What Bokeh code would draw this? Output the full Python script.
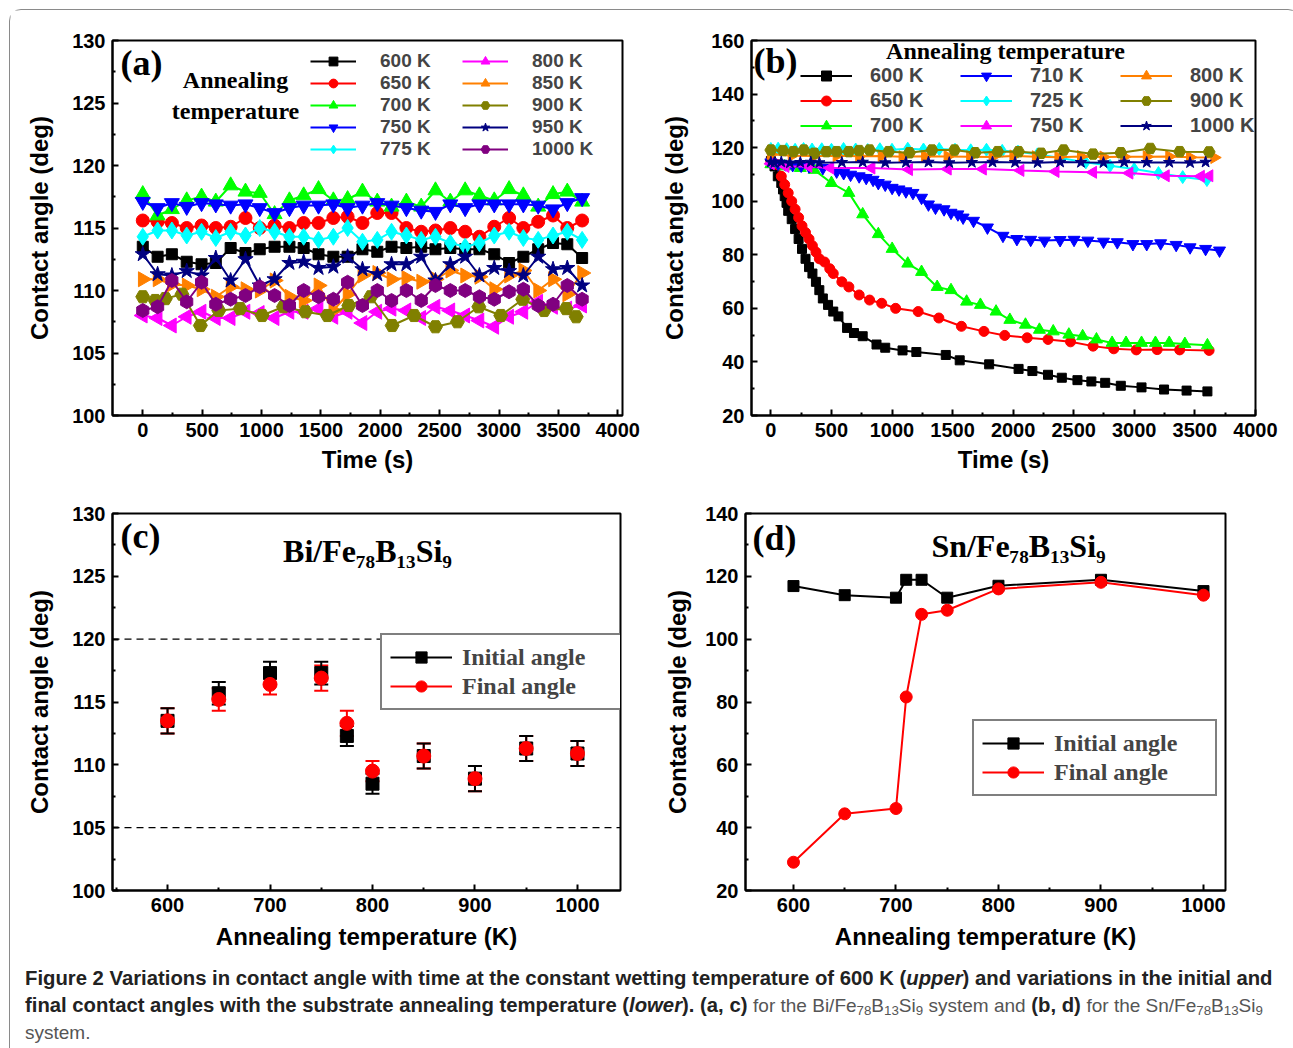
import math
import numpy as np
from bokeh.plotting import figure
from bokeh.models import (Legend, LegendItem, Label, Span, Whisker, ColumnDataSource,
                          FixedTicker, Div)
from bokeh.layouts import row, column
from bokeh.embed import file_html
from bokeh.resources import INLINE

# ---------------- data: panel (a) Bi on Fe78B13Si9, contact angle vs time ----------------
a_time = [0, 125, 245, 370, 495, 615, 740, 865, 985, 1110, 1235, 1355, 1480, 1605, 1725, 1850,
          1975, 2095, 2220, 2345, 2465, 2590, 2715, 2835, 2960, 3085, 3205, 3330, 3455, 3575, 3700]
a_time_900 = [0, 105, 190, 330, 485, 640, 820, 1005, 1185, 1370, 1555, 1735, 1920, 2100, 2285,
              2465, 2650, 2830, 3015, 3200, 3380, 3565, 3650]
a_600 = [113.5, 112.7, 112.9, 112.3, 112.1, 112.2, 113.4, 113.0, 113.3, 113.5, 113.5, 113.4, 112.9,
         112.7, 112.7, 113.3, 113.1, 113.5, 113.4, 113.5, 113.3, 113.4, 113.3, 113.3, 112.9, 112.2,
         112.7, 113.3, 113.8, 113.7, 112.6]
a_650 = [115.6, 115.5, 115.4, 115.0, 115.2, 115.0, 115.1, 115.8, 115.0, 115.2, 115.0, 115.4, 115.4,
         115.8, 115.9, 115.4, 116.2, 116.2, 115.0, 114.7, 114.8, 115.0, 114.7, 114.3, 115.1, 115.8,
         115.0, 115.5, 116.0, 115.0, 115.6]
a_700 = [117.7, 116.0, 116.5, 117.2, 117.5, 117.1, 118.4, 117.9, 117.8, 116.1, 117.2, 117.6, 118.1,
         117.2, 117.3, 117.9, 117.1, 116.7, 117.1, 116.7, 118.0, 117.1, 118.0, 117.6, 117.2, 118.1,
         117.6, 116.7, 117.7, 117.9, 117.1]
a_750 = [117.1, 116.6, 117.0, 116.7, 117.0, 116.9, 116.8, 116.9, 116.6, 116.2, 116.6, 116.8, 116.8,
         116.9, 116.6, 116.8, 117.0, 116.8, 116.6, 116.4, 116.3, 116.9, 116.6, 116.9, 116.9, 116.9,
         116.9, 116.8, 116.5, 117.0, 117.4]
a_775 = [114.3, 114.8, 114.8, 114.4, 114.7, 114.2, 114.7, 114.4, 115.0, 114.7, 114.3, 114.3, 114.05,
         114.3, 115.0, 113.9, 114.05, 114.7, 114.4, 114.05, 114.3, 113.8, 113.5, 113.8, 114.4, 114.7,
         114.2, 114.05, 114.4, 114.7, 114.05]
a_800 = [108.0, 107.8, 107.2, 107.9, 108.3, 107.8, 107.8, 108.3, 108.2, 107.8, 108.3, 108.3, 108.55,
         107.9, 108.3, 107.4, 108.3, 108.55, 108.4, 107.8, 108.7, 108.4, 108.0, 107.6, 107.1, 107.9,
         108.3, 109.1, 108.7, 108.55, 108.8]
a_850 = [110.9, 110.9, 110.5, 110.4, 110.1, 109.5, 110.3, 110.1, 110.0, 110.8, 109.5, 109.2, 110.4,
         108.4, 109.7, 111.2, 111.4, 110.9, 111.0, 110.7, 110.9, 111.6, 111.2, 111.1, 110.1, 111.2,
         111.6, 110.0, 110.9, 109.7, 111.4]
a_900 = [109.5, 109.2, 109.35, 109.7, 107.2, 108.4, 108.55, 108.0, 108.7, 108.3, 108.0, 108.8, 109.5,
         107.2, 108.0, 107.1, 107.5, 108.7, 108.0, 109.3, 108.4, 108.55, 107.9]
a_950 = [112.9, 111.3, 111.2, 111.55, 111.2, 112.6, 110.8, 112.5, 110.4, 110.9, 112.2, 112.3, 111.8,
         111.9, 112.7, 111.7, 111.3, 112.1, 112.1, 112.7, 110.8, 112.1, 112.7, 111.2, 111.8, 111.55,
         111.2, 112.7, 111.7, 111.8, 110.4]
a_1000 = [108.4, 108.7, 110.8, 109.1, 110.66, 108.9, 109.3, 109.6, 110.3, 109.6, 108.8, 110.0, 109.5,
          109.3, 110.66, 108.8, 110.0, 109.2, 110.0, 109.2, 110.4, 110.0, 110.0, 109.5, 109.3, 109.9,
          110.1, 108.8, 108.9, 110.4, 109.3]

# ---------------- data: panel (b) Sn on Fe78B13Si9, contact angle vs time ----------------
b_t_600 = [0, 30, 57, 86, 100, 114, 129, 143, 172, 200, 229, 257, 286, 315, 343, 372, 400, 429, 472,
           515, 558, 629, 686, 758, 872, 944, 1087, 1201, 1444, 1559, 1802, 2045, 2159, 2288, 2402,
           2531, 2646, 2760, 2889, 3060, 3246, 3432, 3604]
b_v_600 = [115.0, 113.0, 109.3, 106.8, 104.4, 101.9, 99.4, 96.4, 93.3, 89.6, 85.9, 82.2, 78.5, 75.4,
           73.0, 69.9, 66.8, 63.7, 61.3, 58.8, 57.0, 52.7, 50.8, 49.6, 46.5, 45.3, 44.3, 43.7, 42.6,
           40.6, 39.1, 37.4, 36.6, 35.2, 34.1, 33.2, 32.7, 32.2, 31.1, 30.5, 29.7, 29.3, 29.0]
b_t_650 = [0, 29, 57, 86, 114, 143, 172, 200, 229, 257, 286, 315, 343, 372, 400, 443, 486, 515, 586,
           644, 729, 815, 915, 1030, 1216, 1387, 1573, 1759, 1931, 2116, 2288, 2474, 2660, 2831,
           3017, 3189, 3375, 3618]
b_v_650 = [115.0, 114.0, 113.6, 109.3, 106.2, 103.1, 100.0, 97.0, 93.9, 90.8, 88.3, 85.9, 83.4, 81.0,
           78.5, 77.3, 74.8, 73.0, 69.9, 68.0, 65.0, 63.1, 61.9, 60.0, 58.8, 56.4, 53.3, 51.4, 49.9,
           49.0, 48.4, 47.5, 45.9, 44.9, 44.5, 44.6, 44.5, 44.3]
b_t_700 = [0, 114, 243, 358, 500, 644, 758, 887, 1001, 1130, 1244, 1373, 1487, 1616, 1730, 1859,
           1973, 2102, 2217, 2331, 2460, 2574, 2688, 2817, 2932, 3060, 3175, 3289, 3418, 3604]
b_v_700 = [113.8, 113.0, 112.4, 111.7, 106.8, 103.1, 95.1, 87.7, 82.2, 76.7, 73.6, 68.0, 66.8, 62.5,
           61.3, 58.8, 55.7, 53.9, 52.0, 51.4, 50.2, 49.6, 48.4, 47.1, 47.1, 47.1, 47.1, 47.1, 46.7,
           46.2]
b_t_710 = [0, 60, 120, 180, 250, 315, 429, 543, 601, 658, 729, 787, 844, 887, 944, 1001, 1058, 1115,
           1173, 1244, 1301, 1359, 1430, 1487, 1544, 1587, 1673, 1788, 1916, 2031, 2145, 2259, 2388,
           2503, 2617, 2746, 2860, 2989, 3103, 3218, 3346, 3461, 3589, 3704]
b_v_710 = [114.5, 114.0, 113.8, 113.5, 113.3, 113.0, 112.4, 111.1, 110.5, 109.9, 109.3, 108.7, 108.0,
           106.8, 106.2, 105.0, 104.4, 103.7, 103.1, 101.3, 98.8, 97.6, 97.0, 95.7, 95.1, 93.9, 92.7,
           90.2, 87.1, 85.9, 85.6, 85.3, 85.5, 85.6, 85.3, 84.9, 84.7, 84.0, 84.0, 84.3, 83.7, 82.8,
           82.2, 81.6]
b_t_725 = [0, 60, 130, 200, 270, 340, 420, 500, 600, 700, 800, 900, 1000, 1130, 1260, 1390, 1520,
           1650, 1780, 1910, 2040, 2200, 2400, 2600, 2800, 3000, 3200, 3400, 3600]
b_v_725 = [119.5, 119.6, 119.4, 119.2, 119.5, 119.3, 119.4, 119.2, 119.5, 119.3, 119.1, 119.4, 119.2,
           119.6, 119.3, 119.5, 119.2, 119.0, 119.2, 118.8, 118.5, 117.5, 116.0, 114.5, 113.2, 112.0,
           110.5, 109.0, 107.9]
b_t_750 = [0, 120, 310, 490, 830, 1140, 1460, 1750, 2060, 2350, 2660, 2960, 3260, 3550, 3620]
b_v_750 = [114.0, 113.0, 113.0, 112.4, 112.4, 111.8, 112.0, 112.0, 111.5, 111.1, 110.8, 110.5, 109.5,
           109.3, 109.5]
b_t_800 = [0, 172, 358, 543, 729, 915, 1087, 1273, 1459, 1645, 1830, 2002, 2188, 2374, 2560, 2746,
           2917, 3103, 3289, 3461, 3661]
b_v_800 = [117.5, 117.0, 116.9, 117.0, 116.8, 116.9, 116.6, 116.8, 116.7, 116.6, 116.5, 116.9, 116.6,
           116.4, 116.7, 116.5, 116.6, 116.6, 116.7, 116.4, 116.3]
b_t_900 = [0, 100, 186, 272, 358, 458, 543, 644, 729, 815, 972, 1144, 1330, 1516, 1687, 1873, 2045,
           2231, 2417, 2660, 2889, 3132, 3375, 3618]
b_v_900 = [119.1, 118.9, 118.5, 119.1, 117.9, 118.5, 118.5, 118.5, 118.9, 119.1, 118.5, 118.1, 119.1,
           119.1, 118.1, 118.5, 118.5, 117.9, 119.1, 117.6, 118.1, 119.7, 118.5, 118.4]
b_t_1000 = [0, 29, 86, 157, 243, 329, 400, 586, 758, 944, 1115, 1301, 1473, 1659, 1830, 2016, 2202,
            2388, 2560, 2746, 2917, 3103, 3289, 3461, 3589]
b_v_1000 = [114.6, 114.4, 114.6, 114.3, 114.5, 114.6, 114.4, 114.5, 114.6, 114.4, 114.5, 114.6, 114.4,
            114.5, 114.6, 114.5, 114.4, 114.6, 114.5, 114.4, 114.6, 114.5, 114.5, 114.4, 114.6]

# ---------------- data: panel (c) Bi system, initial/final angle vs annealing T ----------------
c_temp = [600, 650, 700, 750, 775, 800, 850, 900, 950, 1000]
c_init = [113.5, 115.7, 117.3, 117.3, 112.3, 108.5, 110.7, 108.9, 111.3, 110.9]
c_final = [113.5, 115.2, 116.4, 116.9, 113.3, 109.5, 110.7, 108.9, 111.3, 110.9]
c_init_err = [1.0, 0.9, 0.9, 0.9, 0.8, 0.8, 1.0, 1.0, 1.0, 1.0]
c_final_err = [1.0, 0.9, 0.8, 1.0, 1.0, 0.8, 1.0, 1.0, 1.0, 1.0]
c_ref_lines = [120, 105]

# ---------------- data: panel (d) Sn system ----------------
d_temp = [600, 650, 700, 710, 725, 750, 800, 900, 1000]
d_init = [116.9, 114.0, 113.2, 118.9, 118.9, 113.2, 117.0, 118.9, 115.3]
d_final = [29.0, 44.4, 46.1, 81.6, 107.9, 109.2, 116.0, 118.1, 114.0]

# ---------------- tick labels ----------------
time_ticks = [0, 500, 1000, 1500, 2000, 2500, 3000, 3500, 4000]
time_minor = [250, 750, 1250, 1750, 2250, 2750, 3250, 3750]
a_yticks = [100, 105, 110, 115, 120, 125, 130]
a_yminor = [102.5, 107.5, 112.5, 117.5, 122.5, 127.5]
b_yticks = [20, 40, 60, 80, 100, 120, 140, 160]
b_yminor = [30, 50, 70, 90, 110, 130, 150]
t_ticks = [600, 700, 800, 900, 1000]
t_minor = [550, 650, 750, 850, 950]
d_yticks = [20, 40, 60, 80, 100, 120, 140]
d_yminor = [30, 50, 70, 90, 110, 130]

SANS = "Liberation Sans"
SERIF = "Liberation Serif"


def make_fig(w, h, xr, yr, bl, br, bt, bb, xlabel, xt, xm, yt, ym, ylabel_standoff, xlabel_standoff):
    p = figure(width=w, height=h, x_range=xr, y_range=yr, output_backend="svg",
               toolbar_location=None, min_border_left=bl, min_border_right=br,
               min_border_top=bt, min_border_bottom=bb)
    p.grid.visible = False
    p.outline_line_color = "black"
    p.outline_line_width = 2
    p.outline_line_alpha = 1
    p.xaxis.ticker = FixedTicker(ticks=xt, minor_ticks=xm)
    p.yaxis.ticker = FixedTicker(ticks=yt, minor_ticks=ym)
    for ax in (p.xaxis[0], p.yaxis[0]):
        ax.axis_line_width = 2
        ax.major_tick_line_width = 2
        ax.minor_tick_line_width = 2
        ax.major_tick_in = 6
        ax.major_tick_out = 0
        ax.minor_tick_in = 3
        ax.minor_tick_out = 0
        ax.major_label_text_font = SANS
        ax.major_label_text_font_style = "bold"
        ax.major_label_text_font_size = "20px"
        ax.major_label_text_color = "black"
        ax.major_label_standoff = 7
        ax.axis_label_text_font = SANS
        ax.axis_label_text_font_style = "bold"
        ax.axis_label_text_font_size = "24px"
        ax.axis_label_text_color = "black"
    p.yaxis.axis_label = "Contact angle (deg)"
    p.yaxis.axis_label_standoff = ylabel_standoff
    p.xaxis.axis_label = xlabel
    p.xaxis.axis_label_standoff = xlabel_standoff
    return p


def add_label(p, x, y, text, font, size, align="left"):
    p.add_layout(Label(x=x, y=y, x_units="screen", y_units="screen", text=text,
                       text_font=font, text_font_style="bold", text_font_size=size,
                       text_align=align, text_baseline="middle", text_color="black"))


GREEN = "#00ff00"

# ---------------- panel (a) ----------------
pa = make_fig(630, 480, (-255, 4040), (100, 130), 102, 18, 30, 70, "Time (s)",
              time_ticks, time_minor, a_yticks, a_yminor, 16, 6)
a_series = [
    ("600 K", a_time, a_600, "black", "square", 0, 11),
    ("650 K", a_time, a_650, "red", "circle", 0, 13),
    ("700 K", a_time, a_700, GREEN, "triangle", 0, 15),
    ("750 K", a_time, a_750, "blue", "inverted_triangle", 0, 15),
    ("775 K", a_time, a_775, "cyan", "diamond", 0, 17),
    ("800 K", a_time, a_800, "magenta", "triangle", math.pi / 2, 15),
    ("850 K", a_time, a_850, "#ff8000", "triangle", -math.pi / 2, 15),
    ("900 K", a_time_900, a_900, "#808000", "hex", 0, 14),
    ("950 K", a_time, a_950, "#000080", "star", 0, 16),
    ("1000 K", a_time, a_1000, "#800080", "hex", math.pi / 2, 14),
]
a_items = []
for lab, xs, ys, col, mk, ang, sz in a_series:
    src = ColumnDataSource(dict(x=xs, y=ys))
    l = pa.line("x", "y", source=src, line_color=col, line_width=2)
    s = pa.scatter("x", "y", source=src, marker=mk, angle=ang, size=sz, fill_color=col, line_color=col)
    a_items.append(LegendItem(label=lab, renderers=[l, s]))
leg_a = Legend(items=a_items, location=(198, 255), orientation="vertical", nrows=5,
               glyph_width=46, glyph_height=22, label_standoff=24, label_width=82, label_height=22,
               spacing=0, padding=0, margin=0, background_fill_alpha=0, border_line_alpha=0,
               label_text_font=SANS, label_text_font_style="bold", label_text_font_size="19px")
pa.add_layout(leg_a)
add_label(pa, 8, 353, "(a)", SERIF, "36px")
add_label(pa, 123, 336, "Annealing", SERIF, "24px", "center")
add_label(pa, 123, 305, "temperature", SERIF, "24px", "center")

# ---------------- panel (b) ----------------
pb = make_fig(649, 480, (-160, 4001), (20, 160), 111, 34, 26, 75, "Time (s)",
              time_ticks, time_minor, b_yticks, b_yminor, 20, 6)
b_series = [
    ("600 K", b_t_600, b_v_600, "black", "square", 0, 9),
    ("650 K", b_t_650, b_v_650, "red", "circle", 0, 10),
    ("700 K", b_t_700, b_v_700, GREEN, "triangle", 0, 12),
    ("710 K", b_t_710, b_v_710, "blue", "inverted_triangle", 0, 12),
    ("725 K", b_t_725, b_v_725, "cyan", "diamond", 0, 13),
    ("750 K", b_t_750, b_v_750, "magenta", "triangle", math.pi / 2, 12),
    ("800 K", b_t_800, b_v_800, "#ff8000", "triangle", -math.pi / 2, 12),
    ("900 K", b_t_900, b_v_900, "#808000", "hex", 0, 12),
    ("1000 K", b_t_1000, b_v_1000, "#000080", "star", 0, 12),
]
b_items = []
for lab, xs, ys, col, mk, ang, sz in b_series:
    src = ColumnDataSource(dict(x=xs, y=ys))
    l = pb.line("x", "y", source=src, line_color=col, line_width=2)
    s = pb.scatter("x", "y", source=src, marker=mk, angle=ang, size=sz, fill_color=col, line_color=col)
    b_items.append(LegendItem(label=lab, renderers=[l, s]))
leg_b = Legend(items=b_items, location=(49, 277), orientation="vertical", nrows=3,
               glyph_width=52, glyph_height=25, label_standoff=18, label_width=90, label_height=25,
               spacing=0, padding=0, margin=0, background_fill_alpha=0, border_line_alpha=0,
               label_text_font=SANS, label_text_font_style="bold", label_text_font_size="20px")
pb.add_layout(leg_b)
add_label(pb, 2, 355, "(b)", SERIF, "36px")
add_label(pb, 254, 365, "Annealing temperature", SERIF, "24px", "center")

# ---------------- panel (c) ----------------
pc = make_fig(630, 470, (546.3, 1042), (100, 130), 102, 20, 23, 70, "Annealing temperature (K)",
              t_ticks, t_minor, a_yticks, a_yminor, 16, 8)
for v in c_ref_lines:
    pc.add_layout(Span(location=v, dimension="width", line_color="black", line_width=1.3,
                       line_dash="7 5"))
src_ci = ColumnDataSource(dict(x=c_temp, y=c_init,
                               lo=[a - e for a, e in zip(c_init, c_init_err)],
                               hi=[a + e for a, e in zip(c_init, c_init_err)]))
src_cf = ColumnDataSource(dict(x=c_temp, y=c_final,
                               lo=[a - e for a, e in zip(c_final, c_final_err)],
                               hi=[a + e for a, e in zip(c_final, c_final_err)]))
wf = Whisker(source=src_cf, base="x", lower="lo", upper="hi", line_color="red", line_width=2,
             level="underlay")
wi = Whisker(source=src_ci, base="x", lower="lo", upper="hi", line_color="black", line_width=2,
             level="underlay")
for w, col in ((wf, "red"), (wi, "black")):
    for head in (w.upper_head, w.lower_head):
        head.size = 14
        head.line_color = col
        head.line_width = 2
    pc.add_layout(w)
# line renderers with no visible points: they only give the legend its "—■—" look
nan_src = ColumnDataSource(dict(x=np.array([np.nan]), y=np.array([np.nan])))
ci_line = pc.line("x", "y", source=nan_src, line_color="black", line_width=2)
ci = pc.scatter("x", "y", source=src_ci, marker="square", size=13, fill_color="black", line_color="black")
cf_line = pc.line("x", "y", source=nan_src, line_color="red", line_width=2)
cf = pc.scatter("x", "y", source=src_cf, marker="circle", size=14, fill_color="red", line_color="red")
leg_c = Legend(items=[LegendItem(label="Initial angle", renderers=[ci_line, ci]),
                      LegendItem(label="Final angle", renderers=[cf_line, cf])],
               location=(268, 180), glyph_width=62, glyph_height=28, label_standoff=10,
               label_width=152, label_height=28, spacing=1, padding=8, margin=0,
               border_line_color="black", border_line_width=2, background_fill_color="white",
               background_fill_alpha=1,
               label_text_font=SERIF, label_text_font_style="bold", label_text_font_size="24px")
pc.add_layout(leg_c)
add_label(pc, 8, 355, "(c)", SERIF, "36px")
add_label(pc, 255, 340, "Bi/Fe\u2087\u2088B\u2081\u2083Si\u2089", SERIF, "32px", "center")

# ---------------- panel (d) ----------------
pd_ = make_fig(649, 470, (553.2, 1021.5), (20, 140), 105, 64, 20, 70, "Annealing temperature (K)",
               t_ticks, t_minor, d_yticks, d_yminor, 11, 8)
src_d = ColumnDataSource(dict(x=d_temp, yi=d_init, yf=d_final))
di_l = pd_.line("x", "yi", source=src_d, line_color="black", line_width=2)
di_s = pd_.scatter("x", "yi", source=src_d, marker="square", size=11, fill_color="black", line_color="black")
df_l = pd_.line("x", "yf", source=src_d, line_color="red", line_width=2)
df_s = pd_.scatter("x", "yf", source=src_d, marker="circle", size=12, fill_color="red", line_color="red")
leg_d = Legend(items=[LegendItem(label="Initial angle", renderers=[di_l, di_s]),
                      LegendItem(label="Final angle", renderers=[df_l, df_s])],
               location=(227, 94), glyph_width=62, glyph_height=28, label_standoff=10,
               label_width=153, label_height=28, spacing=1, padding=8, margin=0,
               border_line_color="black", border_line_width=2, background_fill_color="white",
               background_fill_alpha=1,
               label_text_font=SERIF, label_text_font_style="bold", label_text_font_size="24px")
pd_.add_layout(leg_d)
add_label(pd_, 7, 353, "(d)", SERIF, "36px")
add_label(pd_, 273, 345, "Sn/Fe\u2087\u2088B\u2081\u2083Si\u2089", SERIF, "32px", "center")

# ---------------- caption ----------------
SUB = "<sub style=\"font-size:70%;line-height:0;vertical-align:-0.25em\">"
REG = "<span style=\"font-size:19px;color:#555\">"
BOLD = "<b style=\"color:#222\">"
caption = Div(width=1279, height=100, text=(
    "<div style=\"font-family:'Liberation Sans',sans-serif;font-size:20.3px;"
    "line-height:27px;color:#555;padding-left:10px;padding-top:0px;white-space:nowrap;\">"
    + BOLD + "Figure 2 Variations in contact angle with time at the constant wetting "
    "temperature of 600 K (<i>upper</i>) and variations in the initial and<br>final contact angles "
    "with the substrate annealing temperature (<i>lower</i>).</b> " + BOLD + "(a, c)</b> "
    + REG + "for the Bi/Fe" + SUB + "78</sub>B" + SUB + "13</sub>Si" + SUB + "9</sub> system and</span> "
    + BOLD + "(b, d)</b> " + REG + "for the Sn/Fe" + SUB + "78</sub>B" + SUB + "13</sub>Si"
    + SUB + "9</sub><br>system.</span></div>"))

layout = column(row(pa, pb), row(pc, pd_), caption, margin=(9, 0, 0, 9),
                styles={"border": "1px solid #8a8a8a", "border-radius": "12px"})
open("out.html", "w").write(file_html(layout, INLINE))
